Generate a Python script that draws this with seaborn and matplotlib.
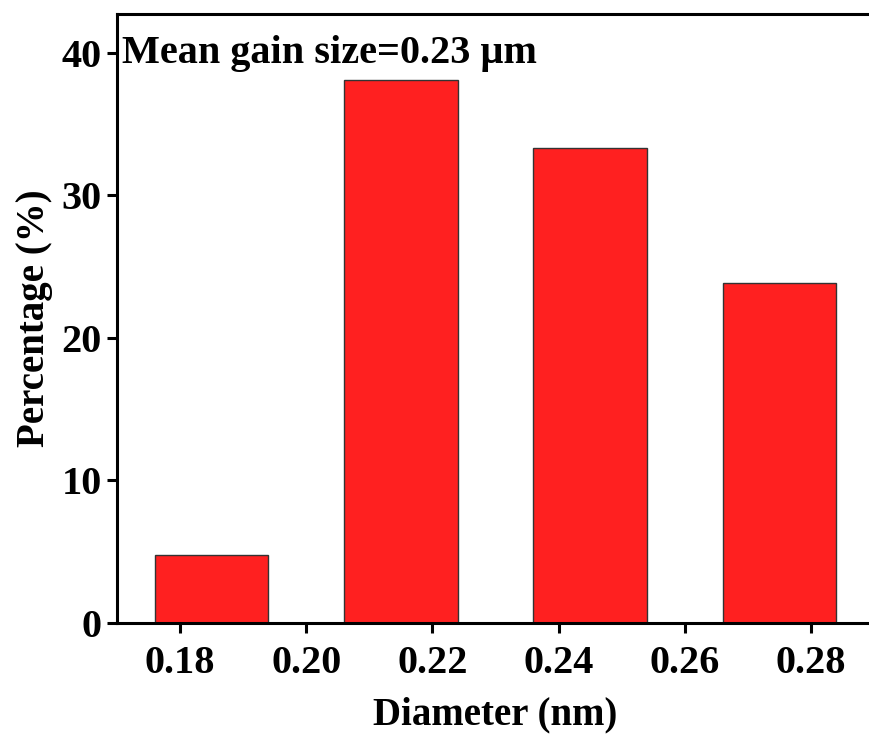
import matplotlib
matplotlib.use("Agg")
import matplotlib.pyplot as plt
import seaborn as sns
import pandas as pd

# Data
diameters = [0.185, 0.215, 0.245, 0.275]
percentages = [4.76, 38.10, 33.33, 23.81]
x_ticks = [0.18, 0.20, 0.22, 0.24, 0.26, 0.28]
x_tick_labels = ["0.18", "0.20", "0.22", "0.24", "0.26", "0.28"]
y_ticks = [0, 10, 20, 30, 40]
annotation = "Mean gain size=0.23 \u03bcm"

sns.set_theme(style="ticks")
plt.rcParams["font.family"] = ["Liberation Serif", "DejaVu Serif"]
plt.rcParams["font.weight"] = "bold"
plt.rcParams["text.color"] = "black"
plt.rcParams["axes.labelcolor"] = "black"

df = pd.DataFrame({"Diameter": diameters, "Percentage": percentages})

fig = plt.figure(figsize=(8.69, 7.39), dpi=100)
ax = fig.add_axes([0.1346, 0.157, 1.006 - 0.1346, 0.981 - 0.157])

sns.barplot(data=df, x="Diameter", y="Percentage", native_scale=True,
            width=0.6, color="#FF2020", saturation=1, edgecolor="#333333",
            linewidth=1.0, ax=ax)

ax.set_xlim(0.17, 0.29)
ax.set_ylim(0, 42.7)
ax.set_xticks(x_ticks)
ax.set_xticklabels(x_tick_labels)
ax.set_yticks(y_ticks)

for s in ["left", "bottom", "top"]:
    ax.spines[s].set_linewidth(2.2)
    ax.spines[s].set_color("black")
ax.spines["right"].set_visible(False)

ax.tick_params(axis="both", direction="out", length=7, width=2.2,
               labelsize=29, colors="black")
ax.tick_params(axis="x", pad=9)
ax.tick_params(axis="y", pad=4)
for lab in ax.get_xticklabels() + ax.get_yticklabels():
    lab.set_fontweight("bold")

ax.set_xlabel("Diameter (nm)", fontsize=28, fontweight="bold", labelpad=10,
              color="black")
ax.set_ylabel("Percentage (%)", fontsize=28, fontweight="bold", labelpad=6,
              color="black")

ax.text(0.006, 0.9195, annotation, transform=ax.transAxes, fontsize=29,
        fontweight="bold", ha="left", va="baseline", color="black")

fig.savefig("out.png", dpi=100)
